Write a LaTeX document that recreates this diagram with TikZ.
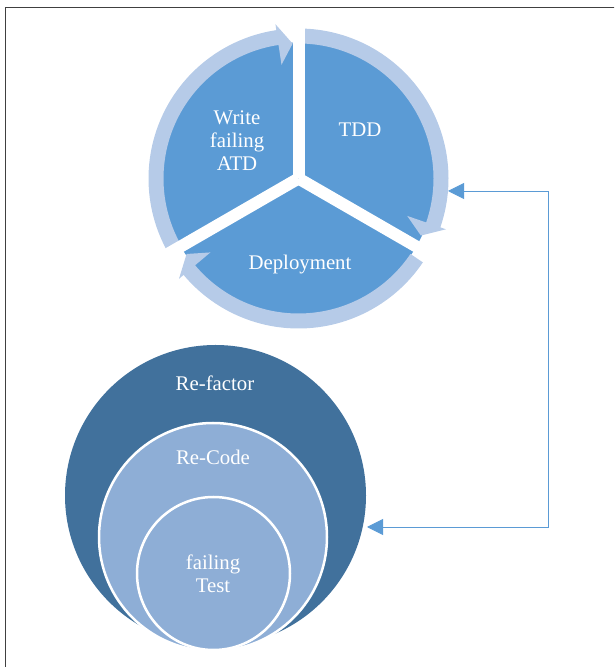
\documentclass[tikz,border=0pt]{standalone}
\usepackage{fontspec}
\setmainfont{Liberation Serif}
\usetikzlibrary{arrows.meta}
\definecolor{pieblue}{HTML}{5B9BD5}
\definecolor{ringblue}{HTML}{B6CBE8}
\definecolor{navy}{HTML}{41719C}
\definecolor{paleblue}{HTML}{8EAED6}

\begin{document}
\begin{tikzpicture}[x=1pt, y=1pt,
    segtext/.style={text=white, font=\fontsize{20.8}{23}\selectfont, align=center},
    disc/.style={circle, inner sep=0pt},
    link/.style={draw=pieblue, line width=0.9pt,
        arrows={Triangle[length=16pt,width=16pt]-Triangle[length=16pt,width=16pt]}}]
\useasboundingbox (0,0) rectangle (614,667);
\clip (0,0) rectangle (614,667);
\draw[black!75, line width=1.4pt] (5.5,-5) -- (5.5,659.5) -- (620,659.5);

\coordinate (c) at (298.5,488.5);
\fill[pieblue] (c) circle[radius=136];
\foreach \a/\t in {208/92.5, 88/-25, -34/-146}{
    \pgfmathsetmacro\b{\t+6}
    \fill[ringblue, shift={(c)}] (\a:150) arc[start angle=\a, end angle=\b, radius=150]
        -- (\b:156) -- (\t:135) -- (\b:115) -- (\b:135)
        arc[start angle=\b, end angle=\a, radius=135] -- cycle;
}
\foreach \g in {90,210,330}
    \draw[white, line width=12pt] (c) -- ++(\g:160);

\node[segtext] (atd) at (237,526) {Write\\failing\\ATD};
\node[segtext] (tdd) at (360,537) {TDD};
\node[segtext] (deploy) at (300,402) {Deployment};

\node[disc, fill=navy, minimum size=301] (refactor) at (215.5,171.5) {};
\node[disc, fill=paleblue, draw=white, line width=2.5pt, minimum size=228] (recode) at (213,130) {};
\node[disc, fill=paleblue, draw=white, line width=2.5pt, minimum size=153] (failtest) at (213.5,93.5) {};
\node[segtext] at (215,284) {Re-factor};
\node[segtext] at (213,210) {Re-Code};
\node[segtext] at (213,93) {failing\\Test};

\coordinate (pieport) at (448,476);
\coordinate (ringport) at (367,140);
\draw[link] (pieport) -- ++(100,0) |- (ringport);
\end{tikzpicture}
\end{document}
